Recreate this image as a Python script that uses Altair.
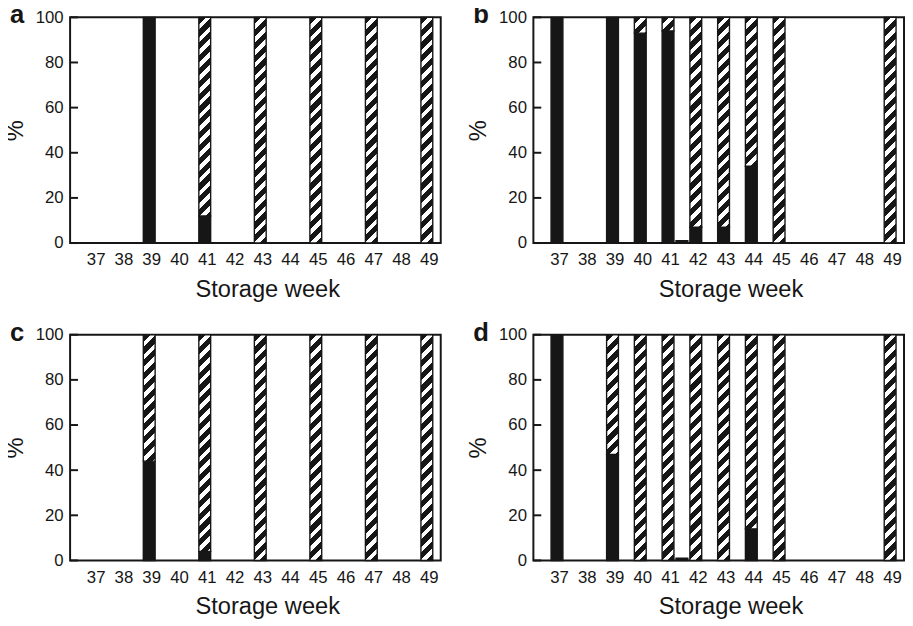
import math
import altair as alt

# ---------------- data ----------------
tick_weeks = list(range(37, 50))
y_ticks = [0, 20, 40, 60, 80, 100]

weeks_a = [39, 41, 43, 45, 47, 49]
black_a = [100, 12, 0, 0, 0, 0]
hatch_a = [0, 88, 100, 100, 100, 100]

weeks_b = [37, 39, 40, 41, 41.5, 42, 43, 44, 45, 49]
black_b = [100, 100, 93, 94, 1, 7, 7, 34, 0, 0]
hatch_b = [0, 0, 7, 6, 0, 93, 93, 66, 100, 100]

weeks_c = [39, 41, 43, 45, 47, 49]
black_c = [44, 4, 0, 0, 0, 0]
hatch_c = [56, 96, 100, 100, 100, 100]

weeks_d = [37, 39, 40, 41, 41.5, 42, 43, 44, 45, 49]
black_d = [100, 47, 0, 0, 1, 0, 0, 14, 0, 0]
hatch_d = [0, 53, 100, 100, 0, 100, 100, 86, 100, 100]

# ---------------- styling ----------------
INK = "#161616"
PLOT_W = 376
PLOT_H = 229
BAR_W = 12
STRIPE_PERIOD = 9.2   # perpendicular stripe period, px
BLACK_FRAC = 0.56
FONT = "Liberation Sans"


def hatch_fill(h_px, w_px=BAR_W):
    """Diagonal '/' stripes built from a hard-stop linear gradient (objectBoundingBox)."""
    w, h = float(w_px), max(float(h_px), 0.5)
    s = (w + h) / (w * w + h * h)
    D = (w + h) / math.sqrt(2)
    stops = []
    k = 0
    while k * STRIPE_PERIOD < D:
        t0 = k * STRIPE_PERIOD / D
        t1 = min((k + BLACK_FRAC) * STRIPE_PERIOD / D, 1.0)
        t2 = min((k + 1) * STRIPE_PERIOD / D, 1.0)
        stops += [
            {"offset": round(t0, 5), "color": INK},
            {"offset": round(t1, 5), "color": INK},
            {"offset": round(t1, 5), "color": "#ffffff"},
            {"offset": round(t2, 5), "color": "#ffffff"},
        ]
        k += 1
    return {"gradient": "linear", "x1": 0, "y1": 0,
            "x2": round(w * s, 6), "y2": round(h * s, 6), "stops": stops}


def rows_for(weeks, black, hatch):
    rows = []
    for wk, b, ht in zip(weeks, black, hatch):
        if b > 0:
            rows.append({"week": wk, "y0": 0, "y1": b, "fill": INK})
        if ht > 0:
            rows.append({"week": wk, "y0": b, "y1": b + ht,
                         "fill": hatch_fill(ht / 100.0 * PLOT_H)})
    return rows


x_scale = alt.Scale(domain=[36.15, 49.5], nice=False, zero=False, padding=0)
y_scale = alt.Scale(domain=[0, 100], nice=False, padding=0)
y_axis = alt.Axis(values=y_ticks, title="%", domain=False, grid=False,
                  ticks=False, tickSize=0, labelPadding=7, titlePadding=8)


def panel(letter, weeks, black, hatch):
    data = alt.Data(values=rows_for(weeks, black, hatch))
    bars = alt.Chart(data).mark_bar(
        size=BAR_W, stroke=INK, strokeWidth=1.4
    ).encode(
        x=alt.X("week:Q", scale=x_scale,
                axis=alt.Axis(values=tick_weeks, format="d", title="Storage week",
                              ticks=False, tickSize=0, domain=False, grid=False,
                              labelPadding=9, labelOffset=2, titlePadding=10,
                              titleX=200)),
        y=alt.Y("y0:Q", scale=y_scale, axis=y_axis),
        y2="y1:Q",
        fill=alt.Fill("fill:N", scale=None),
    )
    # inward-pointing y ticks, positioned by the y scale
    ticks = alt.Chart(alt.Data(values=[{"y0": v} for v in y_ticks])).mark_rule(
        color=INK, strokeWidth=2
    ).encode(
        y=alt.Y("y0:Q", scale=y_scale, axis=y_axis),
        x=alt.value(0),
        x2=alt.value(8),
    )
    tag = alt.Chart(alt.Data(values=[{"label": letter}])).mark_text(
        fontSize=26, fontWeight="bold", align="left", baseline="alphabetic",
        color=INK, font=FONT
    ).encode(
        text="label:N",
        x=alt.value(-61),
        y=alt.value(6),
    )
    return alt.layer(bars, ticks, tag).properties(
        width=PLOT_W, height=PLOT_H,
        view=alt.ViewBackground(stroke=INK, strokeWidth=2, fill="white"),
    )


pa = panel("a", weeks_a, black_a, hatch_a)
pb = panel("b", weeks_b, black_b, hatch_b)
pc = panel("c", weeks_c, black_c, hatch_c)
pd_ = panel("d", weeks_d, black_d, hatch_d)

chart = alt.vconcat(
    alt.hconcat(pa, pb, spacing=24),
    alt.hconcat(pc, pd_, spacing=24),
    spacing=17,
).properties(
    padding={"left": -6, "top": -11, "right": 0, "bottom": 0}
).configure(
    font=FONT, background="white"
).configure_axis(
    labelFont=FONT, titleFont=FONT, labelFontSize=17, titleFontSize=24,
    titleFontWeight="normal", labelColor=INK, titleColor=INK
)

chart.save("out.html", embed_options={"renderer": "svg", "actions": False})
